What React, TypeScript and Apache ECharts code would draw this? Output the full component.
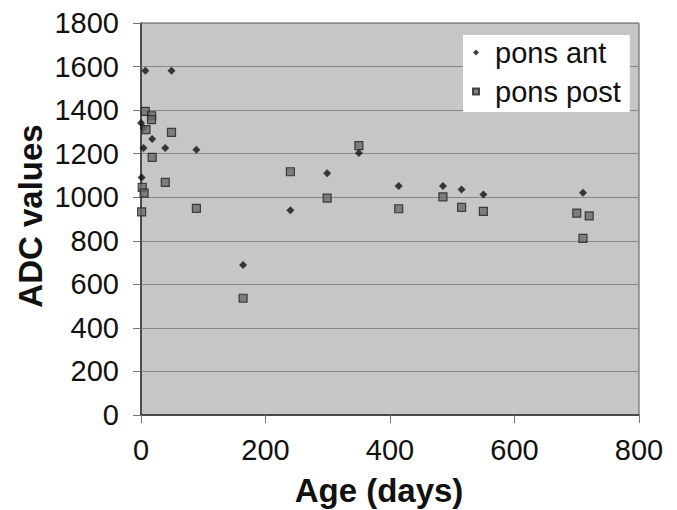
import React, { useEffect, useRef } from "react";
import * as echarts from "echarts";

const seriesNames = ["pons ant", "pons post"];
const ponsAntAge = [7, 49, 0, 4, 18, 4, 39, 89, 1, 240, 164, 299, 350, 414, 485, 515, 550, 710];
const ponsAntADC = [1581, 1581, 1341, 1318, 1267, 1226, 1226, 1218, 1090, 940, 689, 1110, 1203, 1051, 1051, 1036, 1013, 1021];
const ponsPostAge = [7, 17, 17, 8, 49, 18, 39, 2, 5, 1, 89, 240, 299, 164, 350, 414, 485, 515, 550, 700, 720, 710];
const ponsPostADC = [1394, 1374, 1356, 1310, 1298, 1183, 1068, 1045, 1019, 933, 949, 1117, 996, 536, 1237, 947, 1002, 953, 935, 927, 914, 811];
const xTicks = { min: 0, max: 800, interval: 200 };
const yTicks = { min: 0, max: 1800, interval: 200 };
const xTitle = "Age (days)";
const yTitle = "ADC values";

export default function App() {
  const ref = useRef<HTMLDivElement>(null);
  useEffect(() => {
    if (!ref.current) return;
    const chart = echarts.init(ref.current, null, { renderer: "svg" });
    const font = "'Liberation Sans', Arial, sans-serif";
    chart.setOption({
      animation: false,
      textStyle: { fontFamily: font },
      grid: {
        left: 141,
        right: 38,
        top: 23,
        bottom: 95,
        show: true,
        backgroundColor: "#c6c6c6",
        borderColor: "#555",
        borderWidth: 1,
      },
      xAxis: {
        type: "value",
        min: xTicks.min,
        max: xTicks.max,
        interval: xTicks.interval,
        axisLine: { show: true, onZero: false, lineStyle: { color: "#333", width: 1.5 } },
        axisTick: { show: true, length: 8, lineStyle: { color: "#777" } },
        axisLabel: { color: "#111", fontSize: 29, fontFamily: font, margin: 20, formatter: (v: number) => String(v) },
        splitLine: { show: false },
      },
      yAxis: {
        type: "value",
        min: yTicks.min,
        max: yTicks.max,
        interval: yTicks.interval,
        axisLine: { show: true, lineStyle: { color: "#333", width: 1.5 } },
        axisTick: { show: true, length: 8, lineStyle: { color: "#777" } },
        axisLabel: { color: "#111", fontSize: 29, fontFamily: font, margin: 22, formatter: (v: number) => String(v) },
        splitLine: { show: true, lineStyle: { color: "#888", width: 1.2 } },
      },
      legend: {
        left: 463,
        top: 35,
        orient: "vertical",
        backgroundColor: "#fff",
        padding: [3, 9, 6, 9],
        itemGap: 10,
        itemWidth: 6,
        itemHeight: 6,
        textStyle: { fontSize: 29, color: "#111", fontFamily: font, padding: [0, 0, 0, 11] },
        data: [
          { name: seriesNames[0], icon: "diamond" },
          { name: seriesNames[1], icon: "rect" },
        ],
      },
      graphic: [
        {
          type: "text",
          x: 30,
          y: 216,
          rotation: Math.PI / 2,
          style: {
            text: yTitle,
            font: `bold 33px ${font}`,
            fill: "#111",
            align: "center",
            verticalAlign: "middle",
          },
        },
        {
          type: "text",
          x: 379,
          y: 490,
          style: {
            text: xTitle,
            font: `bold 33px ${font}`,
            fill: "#111",
            align: "center",
            verticalAlign: "middle",
          },
        },
      ],
      series: [
        {
          name: seriesNames[0],
          type: "scatter",
          symbol: "diamond",
          symbolSize: 8,
          itemStyle: { color: "#111" },
          data: ponsAntAge.map((a, i) => [a, ponsAntADC[i]]),
        },
        {
          name: seriesNames[1],
          type: "scatter",
          symbol: "rect",
          symbolSize: 8,
          itemStyle: { color: "#6a6a6a", borderColor: "#222", borderWidth: 1.2 },
          data: ponsPostAge.map((a, i) => [a, ponsPostADC[i]]),
        },
      ],
    });
    return () => chart.dispose();
  }, []);
  return <div ref={ref} style={{ width: 677, height: 510, position: "absolute", left: 0, top: 0 }} />;
}
